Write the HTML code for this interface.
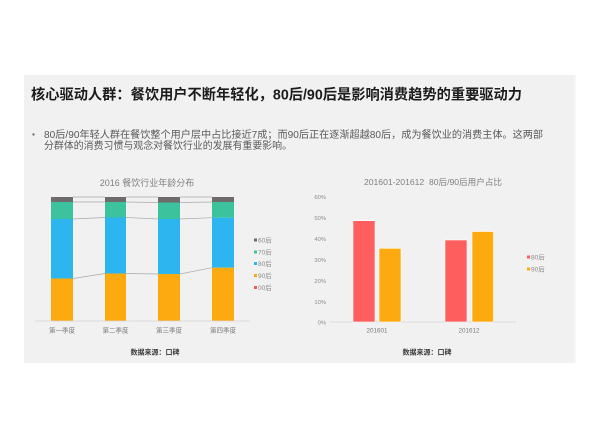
<!DOCTYPE html>
<html>
<head>
<meta charset="utf-8">
<style>
  html,body{margin:0;padding:0;background:#ffffff;}
  svg{display:block;}
  text{font-family:"Liberation Sans","Noto Sans CJK SC",sans-serif;}
</style>
</head>
<body>
<svg width="600" height="440" viewBox="0 0 600 440" xmlns="http://www.w3.org/2000/svg">
  <rect x="0" y="0" width="600" height="440" fill="#ffffff"/>
  <!-- slide panel -->
  <rect x="24" y="75" width="551" height="288" fill="#f1f1f1"/>
  <rect x="574" y="75" width="2" height="288" fill="#f7f7f7"/>

  <!-- title -->
  <text x="31" y="99.5" font-size="14.5" font-weight="bold" fill="#1c1c1c" textLength="491" lengthAdjust="spacingAndGlyphs">核心驱动人群：餐饮用户不断年轻化，80后/90后是影响消费趋势的重要驱动力</text>

  <!-- bullet -->
  <circle cx="33.5" cy="134.5" r="1.2" fill="#777"/>
  <text x="44" y="138" font-size="10" fill="#5a5a5a" textLength="499" lengthAdjust="spacingAndGlyphs">80后/90年轻人群在餐饮整个用户层中占比接近7成；而90后正在逐渐超越80后，成为餐饮业的消费主体。这两部</text>
  <text x="44" y="149" font-size="10" fill="#5a5a5a" textLength="248" lengthAdjust="spacingAndGlyphs">分群体的消费习惯与观念对餐饮行业的发展有重要影响。</text>

  <!-- ============ LEFT CHART ============ -->
  <text x="147" y="186" font-size="9" fill="#808080" text-anchor="middle">2016 餐饮行业年龄分布</text>

  <!-- connector lines -->
  <g stroke="#a9a9a9" stroke-width="0.7" fill="none">
    <line x1="73" y1="197" x2="105" y2="197"/>
    <line x1="73" y1="202" x2="105" y2="202"/>
    <line x1="73" y1="219" x2="105" y2="217.5"/>
    <line x1="73" y1="278.5" x2="105" y2="273.5"/>
    <line x1="126" y1="197" x2="158" y2="197"/>
    <line x1="126" y1="202" x2="158" y2="202.5"/>
    <line x1="126" y1="217.5" x2="158" y2="219"/>
    <line x1="126" y1="273.5" x2="158" y2="274"/>
    <line x1="180" y1="197" x2="212" y2="197"/>
    <line x1="180" y1="202.5" x2="212" y2="202"/>
    <line x1="180" y1="219" x2="212" y2="217.7"/>
    <line x1="180" y1="274" x2="212" y2="267.7"/>
  </g>

  <!-- bar 1 -->
  <rect x="51" y="197" width="22" height="5" fill="#706b6b"/>
  <rect x="51" y="202" width="22" height="17" fill="#3cc39e"/>
  <rect x="51" y="219" width="22" height="59.5" fill="#2cb5ee"/>
  <rect x="51" y="278.5" width="22" height="42.5" fill="#fdaa10"/>
  <!-- bar 2 -->
  <rect x="105" y="197" width="21" height="5" fill="#706b6b"/>
  <rect x="105" y="202" width="21" height="15.5" fill="#3cc39e"/>
  <rect x="105" y="217.5" width="21" height="56" fill="#2cb5ee"/>
  <rect x="105" y="273.5" width="21" height="47.5" fill="#fdaa10"/>
  <!-- bar 3 -->
  <rect x="158" y="197" width="22" height="5.5" fill="#706b6b"/>
  <rect x="158" y="202.5" width="22" height="16.5" fill="#3cc39e"/>
  <rect x="158" y="219" width="22" height="55" fill="#2cb5ee"/>
  <rect x="158" y="274" width="22" height="47" fill="#fdaa10"/>
  <!-- bar 4 -->
  <rect x="212" y="197" width="22" height="5" fill="#706b6b"/>
  <rect x="212" y="202" width="22" height="15.7" fill="#3cc39e"/>
  <rect x="212" y="217.7" width="22" height="50" fill="#2cb5ee"/>
  <rect x="212" y="267.7" width="22" height="53.3" fill="#fdaa10"/>

  <!-- baseline -->
  <line x1="35" y1="321" x2="250" y2="321" stroke="#d4d4d4" stroke-width="0.8"/>

  <!-- x labels -->
  <g font-size="6.5" fill="#7a7a7a" text-anchor="middle">
    <text x="62" y="332.3">第一季度</text>
    <text x="115.5" y="332.3">第二季度</text>
    <text x="169" y="332.3">第三季度</text>
    <text x="223" y="332.3">第四季度</text>
  </g>

  <!-- legend left -->
  <g font-size="6.5" fill="#8a8a8a">
    <rect x="254" y="238.5" width="3" height="3" fill="#706b6b"/>
    <text x="258" y="242.3">60后</text>
    <rect x="254" y="250.5" width="3" height="3" fill="#3cc39e"/>
    <text x="258" y="254.3">70后</text>
    <rect x="254" y="262" width="3" height="3" fill="#2cb5ee"/>
    <text x="258" y="265.8">80后</text>
    <rect x="254" y="274" width="3" height="3" fill="#fdaa10"/>
    <text x="258" y="277.8">90后</text>
    <rect x="254" y="286" width="3" height="3" fill="#f25a5a"/>
    <text x="258" y="289.8">00后</text>
  </g>

  <text x="155" y="354.5" font-size="7" font-weight="bold" fill="#3a3a3a" text-anchor="middle">数据来源：口碑</text>

  <!-- ============ RIGHT CHART ============ -->
  <text x="433" y="185" font-size="8.6" fill="#808080" text-anchor="middle" xml:space="preserve">201601-201612  80后/90后用户占比</text>

  <!-- y labels -->
  <g font-size="5.8" fill="#8a8a8a" text-anchor="end">
    <text x="326" y="198.8">60%</text>
    <text x="326" y="219.8">50%</text>
    <text x="326" y="240.8">40%</text>
    <text x="326" y="261.8">30%</text>
    <text x="326" y="282.8">20%</text>
    <text x="326" y="303.8">10%</text>
    <text x="326" y="324.3">0%</text>
  </g>

  <!-- baseline -->
  <line x1="330" y1="322" x2="516" y2="322" stroke="#d4d4d4" stroke-width="0.8"/>

  <!-- bars -->
  <g stroke="#ffffff" stroke-width="0.6">
    <rect x="353" y="220.7" width="22" height="101.3" fill="#ff5e5e"/>
    <rect x="379" y="248.3" width="22" height="73.7" fill="#fdaa10"/>
    <rect x="445" y="240" width="22" height="82" fill="#ff5e5e"/>
    <rect x="472" y="231.5" width="21.5" height="90.5" fill="#fdaa10"/>
  </g>

  <!-- x labels -->
  <g font-size="6.3" fill="#7a7a7a" text-anchor="middle">
    <text x="377" y="332.5">201601</text>
    <text x="469" y="332.5">201612</text>
  </g>

  <!-- legend right -->
  <g font-size="6.5" fill="#8a8a8a">
    <rect x="527" y="255.5" width="3" height="3" fill="#ff5e5e"/>
    <text x="531" y="259.3">80后</text>
    <rect x="527" y="267.5" width="3" height="3" fill="#fdaa10"/>
    <text x="531" y="271.3">90后</text>
  </g>

  <text x="427" y="354.5" font-size="7" font-weight="bold" fill="#3a3a3a" text-anchor="middle">数据来源：口碑</text>
</svg>
</body>
</html>
